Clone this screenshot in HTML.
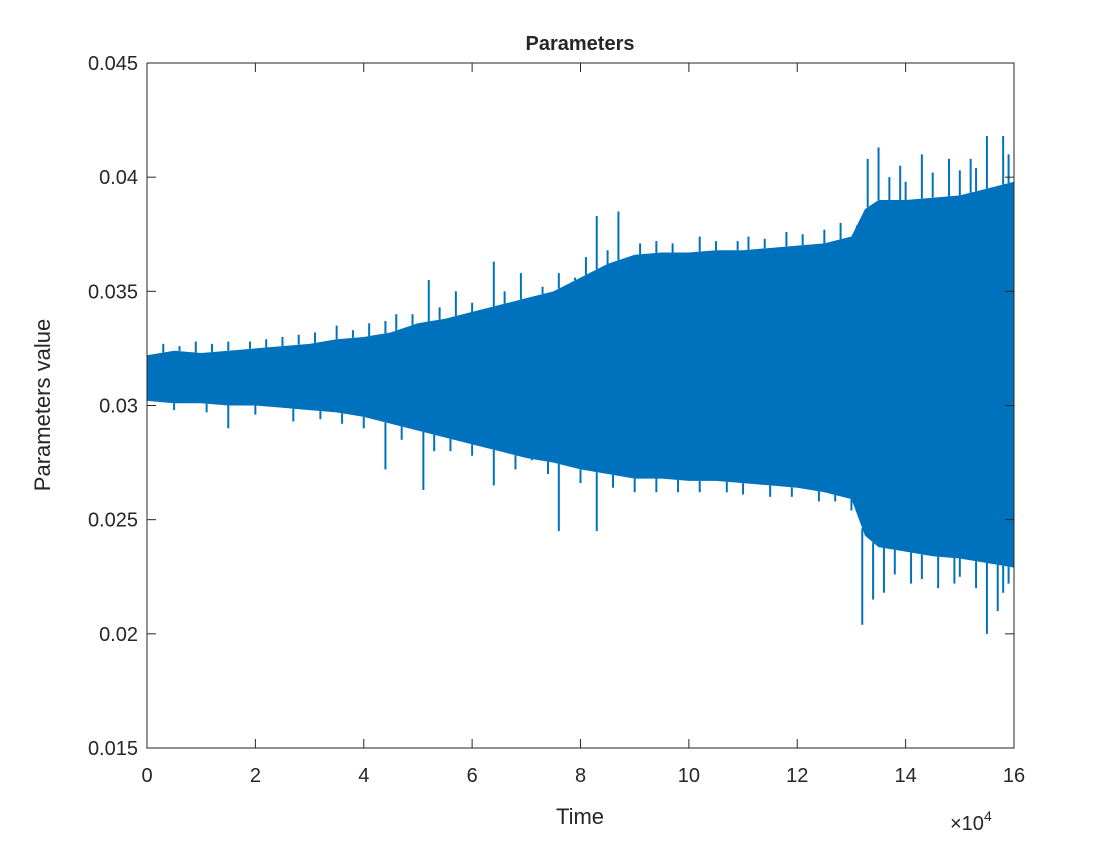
<!DOCTYPE html>
<html><head><meta charset="utf-8"><style>
body{margin:0;background:#fff;}
svg text{font-family:"Liberation Sans",sans-serif;fill:#262626;}
</style></head><body>
<svg id="chart" width="1120" height="840" xmlns="http://www.w3.org/2000/svg">
<rect width="1120" height="840" fill="#fff"/>
<g id="plot"></g>
<g id="axes"></g>
<text x="580" y="50" font-size="20" font-weight="bold" text-anchor="middle">Parameters</text>
<text x="580" y="824" font-size="22" text-anchor="middle">Time</text>
<text transform="translate(50,405) rotate(-90)" font-size="22" text-anchor="middle">Parameters value</text>
<text x="950" y="830" font-size="20">×10<tspan font-size="14" dy="-9">4</tspan></text>
</svg>
<script>
const envX=[0,.5,1,1.5,2,2.5,3,3.5,4,4.5,5,5.5,6,6.5,7,7.5,8,8.5,9,9.5,10,10.5,11,11.5,12,12.5,13,13.25,13.5,14,14.5,15,15.5,16];
const envTop=[.0322,.0324,.0323,.0324,.0325,.0326,.0327,.0329,.0330,.0332,.0336,.0338,.0341,.0344,.0347,.0350,.0356,.0362,.0366,.0367,.0367,.0368,.0368,.0369,.0370,.0371,.0374,.0386,.0390,.0390,.0391,.0392,.0395,.0398];
const envBot=[.0302,.0301,.0301,.0300,.0300,.0299,.0298,.0297,.0295,.0292,.0289,.0286,.0283,.0280,.0277,.0275,.0272,.0270,.0268,.0268,.0267,.0267,.0266,.0265,.0264,.0262,.0259,.0243,.0238,.0236,.0234,.0233,.0231,.0229];
const spikeX=[.3,.9,1.5,2.2,2.8,3.5,4.1,4.6,5.2,5.7,6.4,6.9,7.6,8.3,8.7,9.4,10.2,11.1,11.8,12.8,13.3,13.5,13.9,14.3,14.8,15.2,15.5,15.8,1.5,2.7,3.6,4.4,5.1,5.6,6.4,7.1,7.6,8.3,9.0,9.8,10.7,11.5,12.4,13.2,13.4,13.6,14.1,14.6,15.0,15.5,15.7,15.9,
0.6,1.2,1.9,2.5,3.1,3.8,4.4,4.9,5.4,6.0,6.6,7.3,7.9,8.1,8.5,9.1,9.7,10.5,10.9,11.4,12.1,12.5,13.1,13.7,14.0,14.5,15.0,15.3,15.9,
0.5,1.1,2.0,3.2,4.0,4.7,5.3,6.0,6.8,7.4,8.0,8.6,9.4,10.2,11.0,11.9,12.7,13.0,13.8,14.3,14.9,15.3,15.8];
const spikeY=[.0327,.0328,.0328,.0329,.0331,.0335,.0336,.0340,.0355,.0350,.0363,.0358,.0358,.0383,.0385,.0372,.0374,.0374,.0376,.0380,.0408,.0413,.0405,.0410,.0408,.0408,.0418,.0418,.0290,.0293,.0292,.0272,.0263,.0280,.0265,.0276,.0245,.0245,.0262,.0262,.0262,.0260,.0258,.0204,.0215,.0218,.0222,.0220,.0225,.0200,.0210,.0222,
.0326,.0327,.0328,.0330,.0332,.0333,.0337,.0340,.0343,.0345,.0350,.0352,.0356,.0365,.0368,.0371,.0371,.0372,.0372,.0373,.0375,.0377,.0378,.0400,.0398,.0402,.0403,.0404,.0410,
.0298,.0297,.0296,.0294,.0290,.0285,.0280,.0278,.0272,.0270,.0266,.0264,.0262,.0262,.0261,.0260,.0258,.0254,.0226,.0224,.0222,.0220,.0218];
const xTicks=[0,2,4,6,8,10,12,14,16];
const yTicks=[.015,.02,.025,.03,.035,.04,.045];
const yTickLabels=["0.015","0.02","0.025","0.03","0.035","0.04","0.045"];
const L=147,R=1014,T=63,B=748;
const sx=v=>L+v/16*(R-L), sy=v=>B-(v-.015)/.03*(B-T);
const NS="http://www.w3.org/2000/svg";
const plot=document.getElementById('plot'),axes=document.getElementById('axes');
function mk(t,a,p){const e=document.createElementNS(NS,t);for(const k in a)e.setAttribute(k,a[k]);p.appendChild(e);return e;}
let pts=envX.map((x,i)=>sx(x)+','+sy(envTop[i]));
for(let i=envX.length-1;i>=0;i--)pts.push(sx(envX[i])+','+sy(envBot[i]));
const band=mk('polygon',{points:pts.join(' '),fill:'#0072BD'},plot);


function interp(a,x){for(let i=0;i<envX.length-1;i++){if(x<=envX[i+1]){const t=(x-envX[i])/(envX[i+1]-envX[i]);return a[i]+t*(a[i+1]-a[i]);}}return a[a.length-1];}
spikeX.forEach((x,i)=>{const v=spikeY[i];const base=v>.031?interp(envTop,x):interp(envBot,x);
const ln=mk('line',{x1:sx(x),x2:sx(x),y1:sy(base),y2:sy(v),stroke:'#0072BD','stroke-width':2},plot);

});
const box=mk('rect',{x:L,y:T,width:R-L,height:B-T,fill:'none',stroke:'#262626','stroke-width':1},axes);


xTicks.forEach(v=>{const x=sx(v);
mk('line',{x1:x,x2:x,y1:B,y2:B-9,stroke:'#262626'},axes);mk('line',{x1:x,x2:x,y1:T,y2:T+9,stroke:'#262626'},axes);
const t=mk('text',{x:x,y:B+34,'font-size':20,'text-anchor':'middle'},axes);t.textContent=v;

});
yTicks.forEach((v,i)=>{const y=sy(v);
mk('line',{x1:L,x2:L+9,y1:y,y2:y,stroke:'#262626'},axes);mk('line',{x1:R,x2:R-9,y1:y,y2:y,stroke:'#262626'},axes);
const t=mk('text',{x:L-9,y:y+7,'font-size':20,'text-anchor':'end'},axes);t.textContent=yTickLabels[i];

});
</script>
</body></html>
